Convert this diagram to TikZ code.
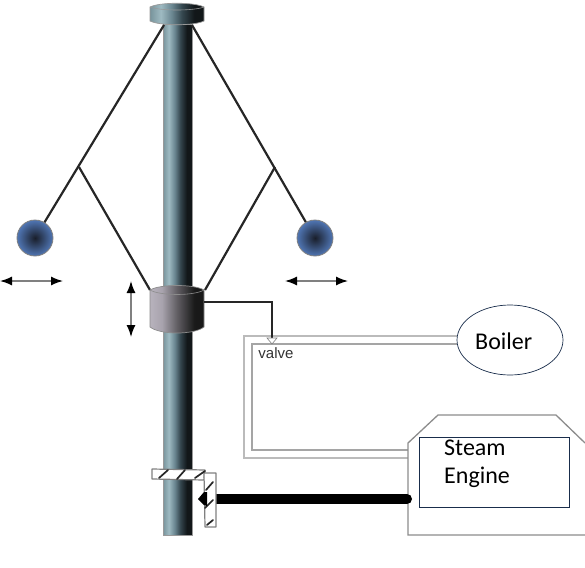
\documentclass[tikz,border=0pt]{standalone}
\usepackage{fontspec}
\setmainfont{Carlito}
\newfontfamily\valvefont{Liberation Sans}
\usetikzlibrary{arrows.meta,shapes.geometric}
\definecolor{pipegray}{RGB}{165,165,165}
\definecolor{enginegray}{RGB}{140,140,140}
\definecolor{boxnavy}{RGB}{25,45,75}
\definecolor{ballblue}{RGB}{80,118,180}
\definecolor{balldark}{RGB}{25,30,42}
\pgfdeclarehorizontalshading{steelshade}{100bp}{
  rgb(0bp)=(0.47,0.58,0.61); rgb(25bp)=(0.47,0.58,0.61); rgb(35bp)=(0.62,0.73,0.76);
  rgb(45bp)=(0.42,0.53,0.57); rgb(55bp)=(0.20,0.27,0.30); rgb(66bp)=(0.07,0.09,0.10); rgb(100bp)=(0.07,0.09,0.10)}
\pgfdeclarehorizontalshading{sleeveshade}{100bp}{
  rgb(0bp)=(0.72,0.70,0.74); rgb(25bp)=(0.72,0.70,0.74); rgb(36bp)=(0.66,0.64,0.68);
  rgb(50bp)=(0.38,0.37,0.39); rgb(66bp)=(0.10,0.10,0.10); rgb(100bp)=(0.10,0.10,0.10)}
\tikzset{
  rod/.style={draw=black!85, line width=2.2pt},
  motion/.style={draw=black!50, line width=1.4pt, {Latex[length=12pt,width=9pt,black]}-{Latex[length=12pt,width=9pt,black]}},
  steelpart/.style={draw=black!40, line width=0.7pt, shading=steelshade},
  sleeve/.style={draw=black!45, line width=0.7pt, shading=sleeveshade},
  ball/.style={circle, minimum size=36pt, inner sep=0pt, draw=gray, line width=0.8pt, inner color=balldark, outer color=ballblue},
  pipeout/.style={draw=pipegray!75, line width=2pt},
  pipein/.style={draw=pipegray, line width=1.6pt},
  wormpart/.style={draw=gray, fill=white, line width=1.2pt, line join=round},
  wormline/.style={draw=black!85, line width=1.7pt, line cap=round},
  caption/.style={font=\fontsize{24}{28}\selectfont, text=black, inner sep=0pt}
}

\begin{document}
\begin{tikzpicture}[x=1pt, y=-1pt]
  \useasboundingbox (0,0) rectangle (585,567);

  % steam lines
  \coordinate (pipeA) at (457,336);
  \coordinate (pipeB) at (244,336);
  \coordinate (pipeC) at (244,458);
  \coordinate (pipeD) at (408,458);
  \coordinate (pipeE) at (457,344);
  \coordinate (pipeF) at (252,344);
  \coordinate (pipeG) at (252,450);
  \coordinate (pipeH) at (408,450);
  \draw[pipeout] (pipeA) -- (pipeB) -- (pipeC) -- (pipeD);
  \draw[pipein] (pipeE) -- (pipeF) -- (pipeG) -- (pipeH);

  % engine and boiler
  \coordinate (engA) at (585,535);
  \coordinate (engB) at (408,535);
  \coordinate (engC) at (408,443);
  \coordinate (engD) at (438,415);
  \coordinate (engE) at (556,415);
  \coordinate (engF) at (585,443);
  \draw[draw=enginegray, line width=1.3pt] (engA) -- (engB) -- (engC) -- (engD) -- (engE) -- (engF);
  \node[draw=boxnavy, fill=white, line width=0.7pt, minimum width=150pt, minimum height=70pt, inner sep=0pt] (engine) at (494,472) {};
  \node[caption, anchor=west] (steam) at (444,448) {Steam};
  \node[caption, anchor=west] (enginetxt) at (444,477) {Engine};
  \node[draw=boxnavy, fill=white, ellipse, line width=0.7pt, minimum width=106pt, minimum height=70pt, inner sep=0pt] (boiler) at (510,340) {};
  \node[caption, anchor=west] (boilertxt) at (475,341) {Boiler};

  % spindle
  \shade[steelpart] (163,24) rectangle (192,535);
  \shade[steelpart] (150,7) .. controls (160,2) and (194,2) .. (204,7) -- (204,21) .. controls (194,26) and (160,26) .. (150,21) -- cycle;
  \draw[draw=black!40, line width=0.6pt] (150,7) .. controls (160,11) and (194,11) .. (204,7);

  % arms
  \coordinate (capL) at (164,25);
  \coordinate (capR) at (192,25);
  \coordinate (jointL) at (79,167);
  \coordinate (jointR) at (275,167);
  \coordinate (slvL) at (150,290);
  \coordinate (slvR) at (205,290);
  \node[ball] (ballL) at (35,238) {};
  \node[ball] (ballR) at (315,238) {};
  \draw[rod] (capL) -- (ballL);
  \draw[rod] (capR) -- (ballR);
  \draw[rod] (jointL) -- (slvL);
  \draw[rod] (jointR) -- (slvR);

  % collar
  \shade[sleeve] (150,290) .. controls (160,284) and (194,284) .. (204,290) -- (204,327) .. controls (194,335) and (160,335) .. (150,327) -- cycle;
  \draw[draw=black!45, line width=0.6pt] (150,290) .. controls (160,296) and (194,296) .. (204,290);

  % motion arrows
  \coordinate (moveA) at (0,281);
  \coordinate (moveB) at (63,281);
  \coordinate (moveC) at (285,281);
  \coordinate (moveD) at (348,281);
  \coordinate (moveE) at (131,281);
  \coordinate (moveF) at (131,337);
  \draw[motion] (moveA) -- (moveB);
  \draw[motion] (moveC) -- (moveD);
  \draw[motion] (moveE) -- (moveF);

  % link to valve
  \coordinate (linkA) at (204,302);
  \coordinate (linkB) at (272,302);
  \coordinate (linkC) at (272,338);
  \draw[rod, line width=2.6pt] (linkA) -- (linkB) -- (linkC);
  \draw[draw=gray, fill=white, line width=0.6pt] (267,338) -- (277,338) -- (272,344) -- cycle;
  \node[font=\valvefont\fontsize{15}{17}\selectfont, text=black!80, inner sep=0pt] (valve) at (276,353) {valve};

  % drive shaft
  \coordinate (driveA) at (214,499);
  \coordinate (driveB) at (407,499);
  \draw[black, line width=10pt, line cap=round] (driveA) -- (driveB);

  % worm gear
  \draw[wormpart] (152,469) -- (205,470) -- (204,480) -- (152,479) -- cycle;
  \draw[wormpart] (204,473) -- (216,473) -- (216,527) -- (205,527) -- cycle;
  \draw[wormline] (159,478) -- (168,470);
  \draw[wormline] (177,479) -- (185,470);
  \draw[wormline] (195,478) -- (205,471);
  \draw[wormline] (206,490) -- (213,482);
  \draw[wormline] (205,508) -- (213,500);
  \draw[wormline] (207,525) -- (213,520);
  \fill[black] (198,499) -- (204,492) -- (207,492) -- (207,506) -- (204,505) -- cycle;
\end{tikzpicture}
\end{document}
